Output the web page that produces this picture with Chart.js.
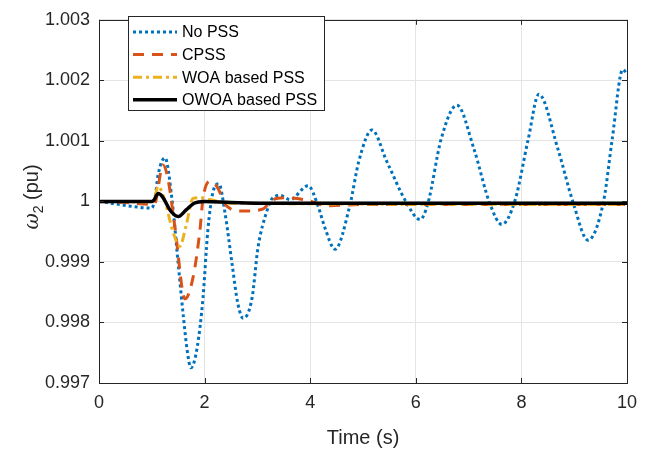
<!DOCTYPE html>
<html>
<head>
<meta charset="utf-8">
<script src="https://cdn.jsdelivr.net/npm/chart.js@4.4.1/dist/chart.umd.min.js"></script>
<style>
  html, body { margin: 0; padding: 0; background: #fff; }
  #wrap { width: 654px; height: 450px; }
</style>
</head>
<body>
<div id="wrap"><canvas id="chart" width="654" height="450"></canvas></div>
<script>
// values
const xTicks = [0, 2, 4, 6, 8, 10];
const yTicks = [0.997, 0.998, 0.999, 1, 1.001, 1.002, 1.003];

const noPssT = [0, 0.3, 0.6, 1.0, 1.06, 1.12, 1.25, 1.38, 1.5, 1.6, 1.67, 1.74, 1.86, 1.97, 2.06, 2.16, 2.27,
  2.39, 2.52, 2.63, 2.73, 2.9, 3.01, 3.18, 3.28, 3.43, 3.62, 3.96, 4.15, 4.28, 4.47, 4.75, 4.92, 5.17,
  5.45, 5.83, 6.08, 6.23, 6.48, 6.78, 7.1, 7.4, 7.63, 7.88, 8.13, 8.33, 8.69, 8.98, 9.26, 9.56, 9.72, 9.92, 10];
const noPssV = [1.0, 0.99996, 0.99992, 0.99989, 1.00005, 1.00044, 1.00072, 1.00005, 0.99897, 0.99808, 0.99754, 0.99725, 0.99759, 0.99841, 0.99951, 1.00016, 1.00029,
  0.99979, 0.99897, 0.99831, 0.99807, 0.99841, 0.99923, 0.99984, 1.00005, 1.0001, 1.00003, 1.00026, 0.99992, 0.99956, 0.99921, 0.99993, 1.00066, 1.00118,
  1.00066, 0.99997, 0.9997, 0.99997, 1.00103, 1.00159, 1.00087, 0.99997, 0.99962, 1.00002, 1.00103, 1.00177, 1.00087, 0.99998, 0.99936, 1.00002, 1.00103, 1.00218, 1.0021];

const cpssT = [0, 0.5, 1.0, 1.06, 1.21, 1.3, 1.44, 1.63, 1.78, 1.91, 1.97, 2.1, 2.23, 2.42, 2.73, 3.09, 3.3, 3.52, 3.94, 4.32, 5, 10];
const cpssV = [1.0, 0.99998, 0.99995, 0.99997, 1.0006, 1.0004, 0.99956, 0.99839, 0.99874, 0.99951, 1.00005, 1.00033, 1.00025, 0.99992, 0.99984, 0.99987, 1.00003, 1.00006, 1.00002, 0.99993, 0.99995, 0.99995];

const woaT = [0, 1.0, 1.05, 1.12, 1.25, 1.4, 1.53, 1.65, 1.78, 1.95, 2.1, 2.5, 10];
const woaV = [1.0, 0.99999, 1.00005, 1.00025, 1.0, 0.9995, 0.99926, 0.9996, 1.00005, 1.00006, 1.00003, 0.99997, 0.99995];

const owoaT = [0, 1.0, 1.04, 1.12, 1.2, 1.35, 1.5, 1.65, 1.8, 2.0, 2.5, 3, 10];
const owoaV = [1.0, 1.0, 1.00002, 1.00013, 1.00008, 0.99985, 0.99975, 0.99986, 0.99997, 1.0, 0.99998, 0.99997, 0.99997];

const seriesNames = ['No PSS', 'CPSS', 'WOA based PSS', 'OWOA based PSS'];

const pts = (t, v) => t.map((x, i) => ({ x: x, y: v[i] }));
const AX = '#262626';
const FONT = '"Liberation Sans", Arial, sans-serif';

// inward ticks, box, legend and y title, matlab style
const matlabAxes = {
  id: 'matlabAxes',
  afterDraw(chart) {
    const ctx = chart.ctx;
    const a = chart.chartArea;
    const xs = chart.scales.x, ys = chart.scales.y;
    ctx.save();
    ctx.strokeStyle = AX;
    ctx.lineWidth = 1;
    ctx.beginPath();
    xTicks.forEach(v => {
      const px = Math.round(xs.getPixelForValue(v)) + 0.5;
      ctx.moveTo(px, a.bottom); ctx.lineTo(px, a.bottom - 5);
      ctx.moveTo(px, a.top); ctx.lineTo(px, a.top + 5);
    });
    yTicks.forEach(v => {
      const py = Math.round(ys.getPixelForValue(v)) + 0.5;
      ctx.moveTo(a.left, py); ctx.lineTo(a.left + 5, py);
      ctx.moveTo(a.right, py); ctx.lineTo(a.right - 5, py);
    });
    ctx.stroke();
    ctx.strokeRect(Math.round(a.left) + 0.5, Math.round(a.top) + 0.5,
      Math.round(a.right - a.left), Math.round(a.bottom - a.top));

    // legend
    const lx = 128, ly = 16, lw = 196, lh = 94;
    ctx.fillStyle = '#fff';
    ctx.fillRect(lx, ly, lw, lh);
    ctx.strokeStyle = AX;
    ctx.strokeRect(lx + 0.5, ly + 0.5, lw, lh);
    ctx.font = '16px ' + FONT;
    ctx.textBaseline = 'middle';
    ctx.textAlign = 'left';
    chart.data.datasets.forEach((ds, i) => {
      const y = 32 + i * 22.6;
      ctx.save();
      ctx.strokeStyle = ds.borderColor;
      ctx.lineWidth = ds.borderWidth;
      ctx.setLineDash(ds.borderDash || []);
      ctx.beginPath();
      ctx.moveTo(133, y); ctx.lineTo(177, y);
      ctx.stroke();
      ctx.restore();
      ctx.fillStyle = '#000';
      ctx.fillText(ds.label, 182, y + 1);
    });

    // y title with subscript
    ctx.translate(31, 197);
    ctx.rotate(-Math.PI / 2);
    ctx.fillStyle = AX;
    ctx.textBaseline = 'alphabetic';
    const f1 = 'italic 20px "DejaVu Serif", serif';
    const f2 = '14px ' + FONT;
    const f3 = '20px ' + FONT;
    ctx.font = f1; const w1 = ctx.measureText('\u03C9').width;
    ctx.font = f2; const w2 = ctx.measureText('2').width;
    ctx.font = f3; const w3 = ctx.measureText(' (pu)').width;
    let x0 = -(w1 + w2 + w3) / 2;
    ctx.font = f1; ctx.fillText('\u03C9', x0, 7); x0 += w1;
    ctx.font = f2; ctx.fillText('2', x0, 12); x0 += w2;
    ctx.font = f3; ctx.fillText(' (pu)', x0, 7);
    ctx.restore();
  }
};

const common = { pointRadius: 0, fill: false, cubicInterpolationMode: 'monotone', borderCapStyle: 'butt' };

new Chart(document.getElementById('chart'), {
  type: 'line',
  data: {
    datasets: [
      Object.assign({ label: seriesNames[0], data: pts(noPssT, noPssV), borderColor: '#0072BD', borderWidth: 3, borderDash: [3, 3], order: 4 }, common),
      Object.assign({ label: seriesNames[1], data: pts(cpssT, cpssV), borderColor: '#D95319', borderWidth: 3, borderDash: [11, 8], order: 3 }, common),
      Object.assign({ label: seriesNames[2], data: pts(woaT, woaV), borderColor: '#EDB120', borderWidth: 3, borderDash: [9, 4, 3, 4], order: 2 }, common),
      Object.assign({ label: seriesNames[3], data: pts(owoaT, owoaV), borderColor: '#000000', borderWidth: 3.5, order: 1 }, common)
    ]
  },
  options: {
    responsive: false,
    animation: false,
    layout: { padding: { left: 0, top: 17, right: 27, bottom: 0 } },
    plugins: { legend: { display: false }, tooltip: { enabled: false } },
    scales: {
      x: {
        type: 'linear', min: 0, max: 10,
        afterFit: s => { s.height = 67; },
        afterBuildTicks: s => { s.ticks = xTicks.map(v => ({ value: v })); },
        grid: { color: '#e4e4e4', drawTicks: false },
        border: { display: false },
        ticks: { color: AX, font: { family: FONT, size: 18 }, padding: 9, maxRotation: 0, callback: v => String(v) },
        title: { display: true, text: 'Time (s)', color: AX, font: { family: FONT, size: 20 }, padding: { top: 0, bottom: 0 } }
      },
      y: {
        type: 'linear', min: 0.997, max: 1.003,
        afterFit: s => { s.width = 99; },
        afterBuildTicks: s => { s.ticks = yTicks.map(v => ({ value: v })); },
        grid: { color: '#e4e4e4', drawTicks: false },
        border: { display: false },
        ticks: { color: AX, font: { family: FONT, size: 18 }, padding: 9, callback: v => String(parseFloat(v.toFixed(3))) }
      }
    }
  },
  plugins: [matlabAxes]
});
</script>
</body>
</html>
